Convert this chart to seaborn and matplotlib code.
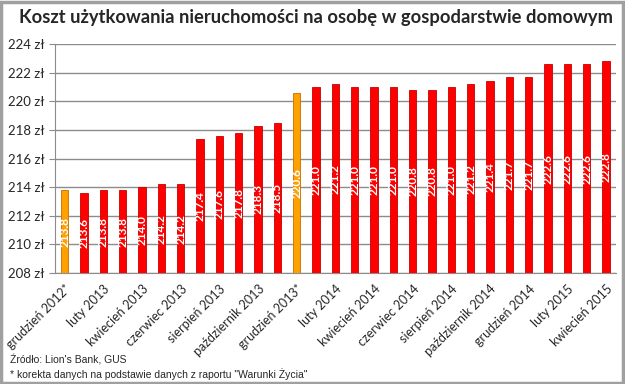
import numpy as np
import pandas as pd
import seaborn as sns
import matplotlib.pyplot as plt
from matplotlib.patches import Rectangle

months = ['grudzień 2012*', 'styczeń 2013', 'luty 2013', 'marzec 2013', 'kwiecień 2013',
          'maj 2013', 'czerwiec 2013', 'lipiec 2013', 'sierpień 2013', 'wrzesień 2013',
          'październik 2013', 'listopad 2013', 'grudzień 2013*', 'styczeń 2014', 'luty 2014',
          'marzec 2014', 'kwiecień 2014', 'maj 2014', 'czerwiec 2014', 'lipiec 2014',
          'sierpień 2014', 'wrzesień 2014', 'październik 2014', 'listopad 2014',
          'grudzień 2014', 'styczeń 2015', 'luty 2015', 'marzec 2015', 'kwiecień 2015']
koszt = [213.8, 213.6, 213.8, 213.8, 214.0, 214.2, 214.2, 217.4, 217.6, 217.8, 218.3, 218.5,
         220.6, 221.0, 221.2, 221.0, 221.0, 221.0, 220.8, 220.8, 221.0, 221.2, 221.4, 221.7,
         221.7, 222.6, 222.6, 222.6, 222.8]
korekta = [m.endswith('*') for m in months]
yticks = [208, 210, 212, 214, 216, 218, 220, 222, 224]

df = pd.DataFrame({'miesiac': months, 'koszt': koszt})
colors = ['#FFA000' if k else '#FF0000' for k in korekta]

sns.set_style("white")
plt.rcParams['font.family'] = ['Lato', 'DejaVu Sans']

fig = plt.figure(figsize=(6.25, 3.84), dpi=100)
ax = fig.add_axes([0.088, 0.289, 0.897, 0.596])
sns.barplot(data=df, x='miesiac', y='koszt', hue='miesiac', palette=colors,
            saturation=1, legend=False, width=0.38, ax=ax, edgecolor='#C80000',
            linewidth=0.6, zorder=3)
for i, p in enumerate(ax.patches):
    if korekta[i]:
        p.set_edgecolor('#C07000')

ax.set_ylim(208, 224)
ax.set_xlim(-0.5, len(months) - 0.5)
ax.set_yticks(yticks)
ax.set_yticklabels([f'{t} zł' for t in yticks], fontsize=9.5)
ax.grid(axis='y', color='#8C8C8C', linewidth=1, zorder=0)
ax.set_axisbelow(True)

for i, v in enumerate(koszt):
    ax.text(i, (208 + v) / 2, f'{v:.1f}', rotation=90, ha='center', va='center',
            color='white', fontsize=8.5, fontweight='bold', zorder=4)

ax.set_xticks(range(0, len(months), 2))
ax.set_xticklabels(months[::2], rotation=45, ha='right', rotation_mode='anchor',
                   fontsize=9)
ax.set_xticks(np.arange(-0.5, len(months), 1), minor=True)
ax.tick_params(axis='x', which='major', length=0, pad=7)
ax.tick_params(axis='x', which='minor', length=4, color='#8C8C8C', direction='out')
ax.tick_params(axis='y', length=4, color='#8C8C8C', direction='out', left=True)
ax.set_xlabel('')
ax.set_ylabel('')
for s in ['top', 'right']:
    ax.spines[s].set_visible(False)
for s in ['left', 'bottom']:
    ax.spines[s].set_color('#8C8C8C')

fig.text(0.03, 0.955, 'Koszt użytkowania nieruchomości na osobę w gospodarstwie domowym',
         fontsize=13.2, fontweight='bold', ha='left', va='center')
fig.text(0.016, 0.062, 'Źródło: Lion\'s Bank, GUS', fontsize=7.5,
         family=['Liberation Sans', 'DejaVu Sans'], va='center')
fig.text(0.016, 0.027, '* korekta danych na podstawie danych z raportu "Warunki Życia"',
         fontsize=7.5, family=['Liberation Sans', 'DejaVu Sans'], va='center')

fig.patches.append(Rectangle((0.002, 0.003), 0.995, 0.993, transform=fig.transFigure,
                             fill=False, edgecolor='#A0A0A0', linewidth=2.5))

fig.savefig('out.png', dpi=100)
